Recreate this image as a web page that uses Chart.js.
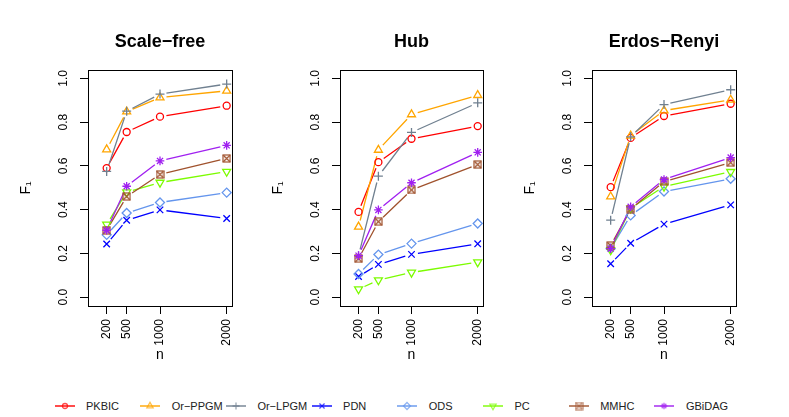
<!DOCTYPE html>
<html>
<head>
<meta charset="utf-8">
<script src="https://cdn.jsdelivr.net/npm/chart.js@4.4.1/dist/chart.umd.min.js"></script>
<style>
  html, body { margin: 0; padding: 0; background: #fff; }
  #wrap { position: relative; width: 789px; height: 417px; overflow: hidden; font-family: "Liberation Sans", Arial, sans-serif; }
  .panel { position: absolute; top: 0; }
  .mark { position: absolute; }
  .label { position: absolute; font-size: 11px; line-height: 14px; color: #222; white-space: nowrap; }
</style>
</head>
<body>
<div id="wrap">
  <canvas id="sf" class="panel" width="250" height="380" style="left:0px"></canvas>
  <canvas id="hub" class="panel" width="250" height="380" style="left:252px"></canvas>
  <canvas id="er" class="panel" width="250" height="380" style="left:504px"></canvas>
  <div id="legend"></div>
</div>
<script>
// sample sizes and y ticks
const nValues = [200, 500, 1000, 2000];
const yTicks = [0, 0.2, 0.4, 0.6, 0.8, 1.0];

const methods = ['PKBIC', 'Or\u2212PPGM', 'Or\u2212LPGM', 'PDN', 'ODS', 'PC', 'MMHC', 'GBiDAG'];
const colors = ['#FF0000', '#FFA500', '#708090', '#0000FF', '#6495ED', '#7CFC00', '#A0522D', '#A020F0'];

// F1 per method (rows follow `methods`), columns follow nValues
const scaleFreeF1 = [
  [0.590, 0.755, 0.825, 0.875],
  [0.675, 0.848, 0.912, 0.943],
  [0.575, 0.850, 0.928, 0.974],
  [0.243, 0.352, 0.399, 0.360],
  [0.285, 0.385, 0.433, 0.478],
  [0.333, 0.480, 0.524, 0.574],
  [0.306, 0.460, 0.561, 0.634],
  [0.306, 0.507, 0.623, 0.694]
];
const hubF1 = [
  [0.390, 0.617, 0.724, 0.782],
  [0.322, 0.673, 0.835, 0.923],
  [0.190, 0.553, 0.753, 0.888],
  [0.095, 0.150, 0.196, 0.244],
  [0.106, 0.195, 0.245, 0.337],
  [0.037, 0.078, 0.113, 0.160],
  [0.176, 0.345, 0.490, 0.606],
  [0.190, 0.399, 0.523, 0.662]
];
const erdosF1 = [
  [0.503, 0.728, 0.828, 0.884],
  [0.460, 0.738, 0.853, 0.902],
  [0.352, 0.733, 0.880, 0.948],
  [0.153, 0.247, 0.334, 0.422],
  [0.222, 0.374, 0.483, 0.541],
  [0.215, 0.406, 0.506, 0.573],
  [0.236, 0.403, 0.528, 0.615],
  [0.222, 0.413, 0.538, 0.638]
];

// square with an x inside (R pch 7)
function squareX(color) {
  const c = document.createElement('canvas');
  c.width = 9; c.height = 9;
  const g = c.getContext('2d');
  g.strokeStyle = color;
  g.lineWidth = 1.2;
  g.strokeRect(1, 1, 7, 7);
  g.beginPath();
  g.moveTo(1, 1); g.lineTo(8, 8);
  g.moveTo(8, 1); g.lineTo(1, 8);
  g.stroke();
  return c;
}

const pointStyles = ['circle', 'triangle', 'cross', 'crossRot', 'rectRot', 'triangle', squareX(colors[6]), 'star'];
const pointRotations = [0, 0, 0, 0, 0, 180, 0, 0];
const pointSizes = [3.5, 4.6, 4.5, 4.6, 4.5, 4.6, 4.5, 4.3];

const boxPlugin = {
  id: 'box',
  afterDraw(chart) {
    const { ctx, chartArea: a } = chart;
    ctx.save();
    ctx.strokeStyle = '#000';
    ctx.lineWidth = 1;
    ctx.strokeRect(Math.round(a.left) + 0.5, Math.round(a.top) + 0.5, Math.round(a.width), Math.round(a.height));
    ctx.restore();
  }
};

// like R type="b": join the points but leave a small gap round each one
const GAP = 6.5;
const gapLines = {
  id: 'gapLines',
  beforeDatasetsDraw(chart) {
    const ctx = chart.ctx;
    chart.data.datasets.forEach((ds, i) => {
      const pts = chart.getDatasetMeta(i).data;
      ctx.save();
      ctx.strokeStyle = ds.borderColor;
      ctx.lineWidth = ds.borderWidth;
      ctx.beginPath();
      for (let j = 1; j < pts.length; j++) {
        const a = pts[j - 1], b = pts[j];
        const dx = b.x - a.x, dy = b.y - a.y, d = Math.hypot(dx, dy);
        if (d <= 2 * GAP) continue;
        const ux = dx / d, uy = dy / d;
        ctx.moveTo(a.x + ux * GAP, a.y + uy * GAP);
        ctx.lineTo(b.x - ux * GAP, b.y - uy * GAP);
      }
      ctx.stroke();
      ctx.restore();
    });
  }
};

const tickGrid = {
  display: true, drawOnChartArea: false, drawTicks: true,
  tickLength: 8, color: '#000', tickColor: '#000', lineWidth: 1
};

function makePanel(id, title, values, rightPad) {
  const datasets = methods.map((m, i) => ({
    label: m,
    data: nValues.map((n, j) => ({ x: n, y: values[i][j] })),
    borderColor: colors[i],
    backgroundColor: colors[i],
    borderWidth: 1.3,
    showLine: false,
    pointStyle: pointStyles[i],
    pointRotation: pointRotations[i],
    pointRadius: pointSizes[i],
    pointBorderWidth: 1.3,
    pointBorderColor: colors[i],
    pointBackgroundColor: 'rgba(255,255,255,0)',
    order: methods.length - i
  }));

  return new Chart(document.getElementById(id), {
    type: 'line',
    data: { datasets },
    options: {
      responsive: false,
      animation: false,
      layout: { padding: { top: 0, right: rightPad, bottom: 0, left: 0 } },
      plugins: {
        legend: { display: false },
        tooltip: { enabled: false },
        title: {
          display: true, text: title, fullSize: false, color: '#000',
          font: { family: 'Liberation Sans', size: 18, weight: 'bold' },
          padding: { top: 31, bottom: 17 }
        }
      },
      scales: {
        x: {
          type: 'linear', min: -80, max: 2080,
          afterBuildTicks: s => { s.ticks = nValues.map(v => ({ value: v })); },
          afterFit: s => { s.height = 74; },
          grid: tickGrid,
          border: { display: false },
          ticks: {
            autoSkip: false, minRotation: 90, maxRotation: 90, padding: 5,
            color: '#000', font: { family: 'Liberation Sans', size: 12 },
            callback: v => String(v)
          },
          title: {
            display: true, text: 'n', color: '#000',
            font: { family: 'Liberation Sans', size: 14 },
            padding: { top: 0, bottom: 16 }
          }
        },
        y: {
          min: -0.04, max: 1.04,
          afterBuildTicks: s => { s.ticks = yTicks.map(v => ({ value: v })); },
          afterFit: s => { s.width = 88; },
          grid: tickGrid,
          border: { display: false },
          ticks: {
            minRotation: 90, maxRotation: 90, crossAlign: 'center', padding: 8,
            color: '#000', font: { family: 'Liberation Sans', size: 12 },
            callback: v => v.toFixed(1)
          },
          title: {
            display: true, text: 'F\u2081', color: '#000',
            font: { family: 'Liberation Sans', size: 14 },
            padding: { top: 18, bottom: 0 }
          }
        }
      }
    },
    plugins: [gapLines, boxPlugin]
  });
}

makePanel('sf', 'Scale\u2212free', scaleFreeF1, 18);
makePanel('hub', 'Hub', hubF1, 19);
makePanel('er', 'Erdos\u2212Renyi', erdosF1, 18);

// legend along the bottom
const legend = document.getElementById('legend');
const legendY = 406;
methods.forEach((m, i) => {
  const mx = 64.5 + 85.7 * i;
  const c = document.createElement('canvas');
  c.className = 'mark';
  c.width = 26; c.height = 14;
  c.style.left = (mx - 13) + 'px';
  c.style.top = (legendY - 7) + 'px';
  const g = c.getContext('2d');
  g.globalAlpha = 0.7;
  g.strokeStyle = colors[i];
  g.lineWidth = 2;
  g.beginPath(); g.moveTo(3, 7); g.lineTo(23, 7); g.stroke();
  g.lineWidth = 1.3;
  g.fillStyle = 'rgba(255,255,255,0)';
  if (Chart.helpers && Chart.helpers.drawPoint) {
    Chart.helpers.drawPoint(g, {
      pointStyle: pointStyles[i], rotation: pointRotations[i],
      radius: pointSizes[i] - 1, borderWidth: 1.3
    }, 13, 7);
  }
  legend.appendChild(c);

  const t = document.createElement('span');
  t.className = 'label';
  t.textContent = m;
  t.style.left = (mx + 21.5) + 'px';
  t.style.top = (legendY - 7) + 'px';
  legend.appendChild(t);
});
</script>
</body>
</html>
